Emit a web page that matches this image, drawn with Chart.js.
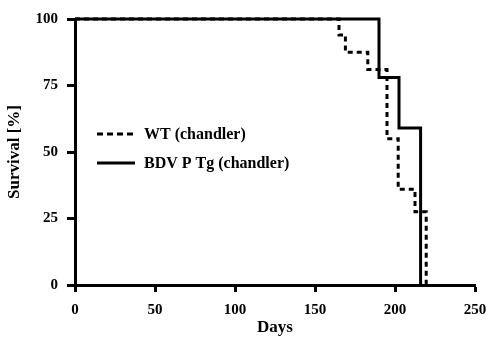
<!DOCTYPE html>
<html>
  <head>
    <meta charset="utf-8">
    <title>Survival</title>
    <script src="https://cdn.jsdelivr.net/npm/chart.js@4.4.0/dist/chart.umd.min.js"></script>
    <style>
      html, body { margin: 0; padding: 0; background: #fff; }
      #wrap { width: 490px; height: 339px; }
    </style>
  </head>
  <body>
    <div id="wrap"><canvas id="myChart"></canvas></div>
    <script>
      // step points (day, % surviving)
      const wtDays = [0, 165, 169, 183, 195, 202, 212.5, 219.5];
      const wtSurv = [100, 94, 87.5, 81, 55, 36, 27.5, 0];
      const tgDays = [0, 190, 202.5, 216];
      const tgSurv = [100, 78, 59, 0];
      const xTicks = [0, 50, 100, 150, 200, 250];
      const yTicks = [0, 25, 50, 75, 100];
      const seriesNames = ['WT (chandler)', 'BDV P Tg (chandler)'];

      const serif = "'Liberation Serif', 'DejaVu Serif', serif";

      function toPoints(xs, ys) {
        return xs.map((x, i) => ({ x: x, y: ys[i] }));
      }

      // legend drawn inside the plot, like the original figure
      const innerLegend = {
        id: 'innerLegend',
        afterDraw(chart) {
          const ctx = chart.ctx;
          const rows = [
            { name: seriesNames[0], dash: [6, 4], y: 134 },
            { name: seriesNames[1], dash: [], y: 163 }
          ];
          ctx.save();
          rows.forEach(r => {
            ctx.strokeStyle = '#000';
            ctx.lineWidth = 3;
            ctx.setLineDash(r.dash);
            ctx.beginPath();
            ctx.moveTo(97, r.y);
            ctx.lineTo(135, r.y);
            ctx.stroke();
            ctx.setLineDash([]);
            ctx.fillStyle = '#000';
            ctx.font = 'bold 16px ' + serif;
            ctx.textBaseline = 'middle';
            ctx.fillText(r.name, 144, r.y + 1);
          });
          ctx.restore();
        }
      };

      var ctx = document.getElementById('myChart').getContext('2d');
      var myChart = new Chart(ctx, {
        type: 'line',
        data: {
          datasets: [{
            label: seriesNames[1],
            data: toPoints(tgDays, tgSurv),
            stepped: 'before',
            borderColor: '#000',
            borderWidth: 3,
            pointRadius: 0,
            clip: false,
            fill: false
          }, {
            label: seriesNames[0],
            data: toPoints(wtDays, wtSurv),
            stepped: 'before',
            borderColor: '#000',
            borderWidth: 3,
            borderDash: [5, 4],
            pointRadius: 0,
            clip: false,
            fill: false
          }]
        },
        options: {
          responsive: true,
          maintainAspectRatio: false,
          animation: false,
          layout: { padding: { top: 19, right: 15, left: 0, bottom: 0 } },
          plugins: { legend: { display: false }, tooltip: { enabled: false } },
          scales: {
            x: {
              type: 'linear',
              min: 0, max: 250,
              afterBuildTicks(axis) { axis.ticks = xTicks.map(v => ({ value: v })); },
              afterFit(axis) { axis.height = 54; axis.paddingLeft = 0; axis.paddingRight = 0; },
              border: { display: true, color: '#000', width: 3 },
              grid: { drawOnChartArea: false, color: '#000', tickLength: 7, tickWidth: 3 },
              ticks: { color: '#000', font: { family: serif, size: 15, weight: 'bold' }, padding: 9, maxRotation: 0 },
              title: { display: true, text: 'Days', color: '#000', font: { family: serif, size: 17, weight: 'bold' }, padding: { top: 4, bottom: 1 } }
            },
            y: {
              min: 0, max: 100,
              afterBuildTicks(axis) { axis.ticks = yTicks.map(v => ({ value: v })); },
              afterFit(axis) { axis.width = 75; axis.paddingTop = 0; axis.paddingBottom = 0; },
              border: { display: true, color: '#000', width: 3 },
              grid: { drawOnChartArea: false, color: '#000', tickLength: 8, tickWidth: 3 },
              ticks: { color: '#000', font: { family: serif, size: 15, weight: 'bold' }, padding: 9 },
              title: { display: true, text: 'Survival [%]', color: '#000', font: { family: serif, size: 17, weight: 'bold' }, padding: { bottom: 2 } }
            }
          }
        },
        plugins: [innerLegend]
      });
    </script>
  </body>
</html>
